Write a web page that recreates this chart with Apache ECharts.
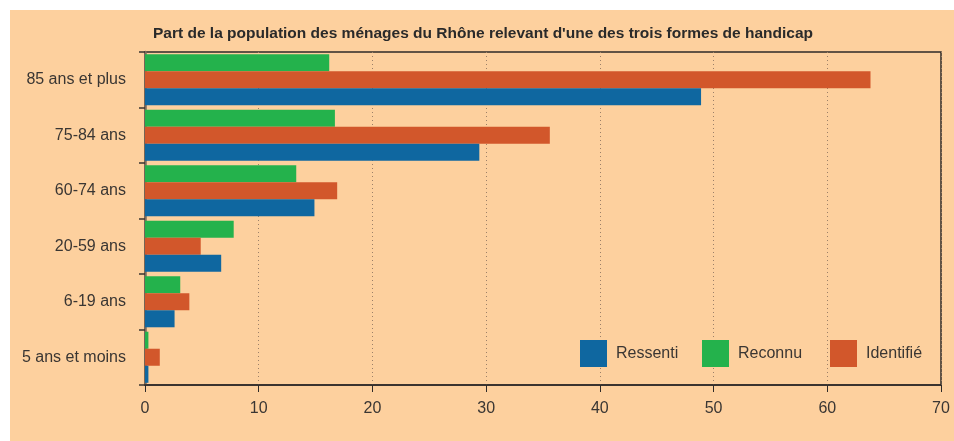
<!DOCTYPE html>
<html>
<head>
<meta charset="utf-8">
<script src="https://cdn.jsdelivr.net/npm/echarts@6/dist/echarts.min.js"></script>
<style>
  html, body { margin: 0; padding: 0; background: #fff; }
  #main { width: 954px; height: 441px; }
</style>
</head>
<body>
<div id="main"></div>
<script>
var categories = ['85 ans et plus', '75-84 ans', '60-74 ans', '20-59 ans', '6-19 ans', '5 ans et moins'];
var reconnu = [16.2, 16.7, 13.3, 7.8, 3.1, 0.3];
var identifie = [63.8, 35.6, 16.9, 4.9, 3.9, 1.3];
var ressenti = [48.9, 29.4, 14.9, 6.7, 2.6, 0.3];
var xTicks = [0, 10, 20, 30, 40, 50, 60, 70];

var font = "'Liberation Sans Narrow', 'Arial Narrow', 'Liberation Sans', sans-serif";
var txt = '#3a3633';

var dom = document.getElementById('main');
var myChart = echarts.init(dom);

function legendAt(left, name) {
  return {
    data: [name],
    left: left,
    top: 340,
    padding: 0,
    icon: 'rect',
    itemWidth: 27,
    itemHeight: 27,
    selectedMode: false,
    textStyle: { color: txt, fontSize: 16, fontFamily: font, padding: [0, 0, 0, 4] }
  };
}

var option = {
  backgroundColor: '#fff',
  animation: false,
  graphic: [
    {
      type: 'rect',
      z: -10,
      shape: { x: 10, y: 10, width: 944, height: 431 },
      style: { fill: '#FDD09E' }
    },
    {
      type: 'text',
      left: 153,
      top: 26,
      style: {
        text: "Part de la population des ménages du Rhône relevant d'une des trois formes de handicap",
        fill: '#2a2a2a',
        font: 'bold 15.5px ' + font
      }
    }
  ],
  grid: {
    left: 145, right: 13, top: 52, bottom: 56,
    show: true,
    borderColor: '#2e2a28',
    borderWidth: 1.5
  },
  legend: [
    legendAt(580, 'Ressenti'),
    legendAt(702, 'Reconnu'),
    legendAt(830, 'Identifié')
  ],
  xAxis: {
    type: 'value',
    min: xTicks[0],
    max: xTicks[xTicks.length - 1],
    interval: 10,
    axisLine: { show: true, lineStyle: { color: '#2e2a28', width: 1.5 } },
    axisTick: { show: true, length: 7, lineStyle: { color: '#2e2a28' } },
    axisLabel: { color: txt, fontSize: 16, fontFamily: font, margin: 16 },
    splitLine: { show: true, lineStyle: { color: '#9c8068', type: [1, 3], width: 1 } }
  },
  yAxis: {
    type: 'category',
    inverse: true,
    data: categories,
    axisLine: { show: true, lineStyle: { color: '#7d6b5c', width: 2.5 } },
    axisTick: { show: true, length: 6, lineStyle: { color: '#3a3430', width: 1.5 } },
    axisLabel: { color: txt, fontSize: 16, fontFamily: font, margin: 19 }
  },
  series: [
    {
      name: 'Reconnu', type: 'bar', data: reconnu,
      barGap: '0%', barCategoryGap: '8%',
      itemStyle: { color: '#24B24C' }
    },
    {
      name: 'Identifié', type: 'bar', data: identifie,
      barGap: '0%', barCategoryGap: '8%',
      itemStyle: { color: '#D2572B' }
    },
    {
      name: 'Ressenti', type: 'bar', data: ressenti,
      barGap: '0%', barCategoryGap: '8%',
      itemStyle: { color: '#0F67A0' }
    }
  ]
};

myChart.setOption(option, true);
</script>
</body>
</html>
